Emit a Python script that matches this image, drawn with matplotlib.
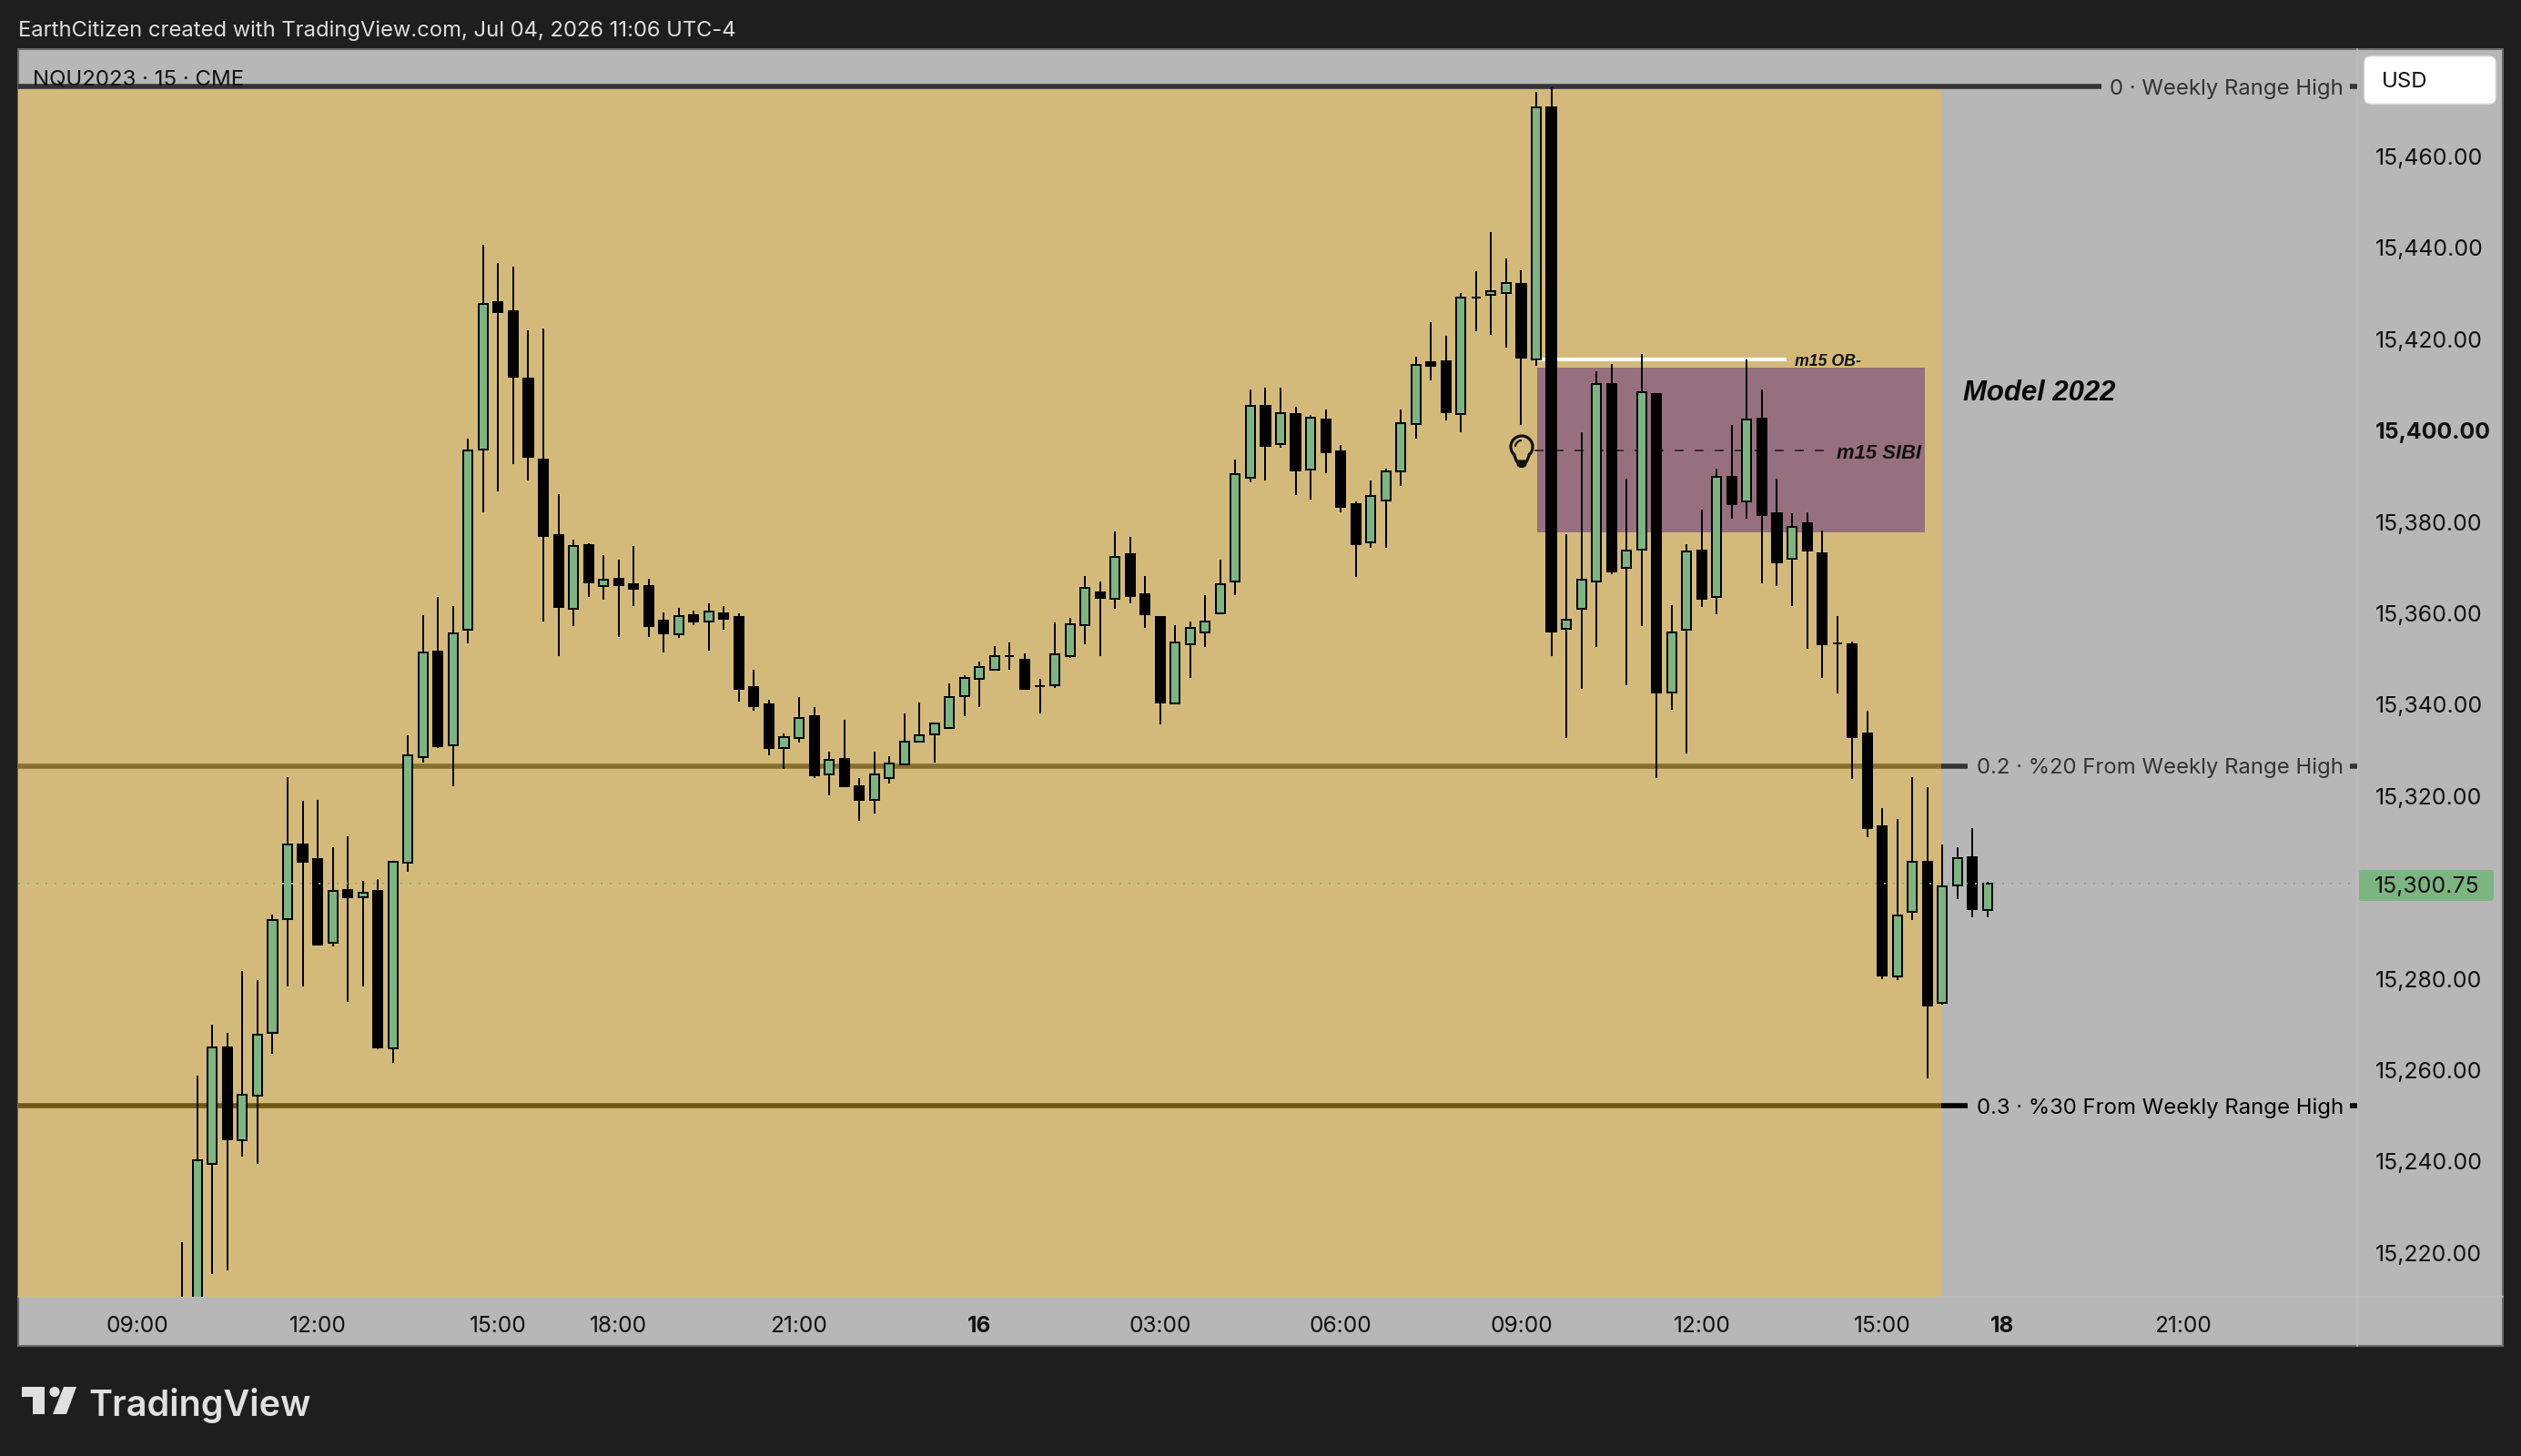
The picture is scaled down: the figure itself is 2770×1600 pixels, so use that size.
import numpy as np
import matplotlib
matplotlib.use("Agg")
import matplotlib.pyplot as plt
from matplotlib.patches import Rectangle, FancyBboxPatch, Polygon, Circle
from matplotlib.transforms import Affine2D

# candles, one per 15 minutes
opens = [15200.00, 15200.00, 15239.58, 15264.98, 15244.76, 15254.52, 15268.09, 15293.07, 15309.40, 15306.22,
         15287.89, 15299.44, 15297.85, 15299.24, 15264.88, 15305.42, 15328.61, 15351.63, 15331.19, 15356.51,
         15395.86, 15428.13, 15426.13, 15411.39, 15393.66, 15377.13, 15361.06, 15374.94, 15365.98, 15367.57,
         15366.37, 15365.98, 15358.41, 15355.42, 15359.60, 15358.21, 15360.00, 15359.20, 15343.86, 15340.08,
         15330.52, 15332.71, 15337.49, 15324.74, 15328.13, 15322.15, 15319.16, 15323.94, 15326.93, 15331.91,
         15333.51, 15334.90, 15341.87, 15345.66, 15347.65, 15350.64, 15349.84, 15344.06, 15344.32, 15350.70,
         15357.47, 15364.58, 15363.25, 15372.95, 15364.18, 15359.20, 15340.34, 15353.23, 15355.82, 15360.00,
         15366.97, 15389.68, 15405.42, 15397.05, 15403.62, 15391.47, 15402.43, 15395.46, 15383.90, 15375.54,
         15384.70, 15391.07, 15401.43, 15414.98, 15415.18, 15403.72, 15429.12, 15429.72, 15430.12, 15432.11,
         15415.58, 15470.75, 15356.61, 15361.00, 15366.97, 15410.20, 15369.96, 15374.04, 15408.01, 15342.75,
         15356.41, 15373.74, 15363.49, 15389.88, 15384.42, 15402.63, 15381.81, 15371.85, 15379.72, 15373.15,
         15353.33, 15353.23, 15333.70, 15313.39, 15280.52, 15294.66, 15305.62, 15274.74, 15300.44, 15306.61,
         15294.96]
highs = [15222.35, 15258.81, 15269.96, 15268.17, 15281.71, 15279.72, 15294.06, 15324.14, 15318.96, 15319.16,
         15308.80, 15311.20, 15301.43, 15301.83, 15305.82, 15333.31, 15359.60, 15363.58, 15361.59, 15398.25,
         15440.68, 15436.69, 15435.89, 15421.95, 15422.35, 15386.09, 15376.13, 15375.24, 15372.75, 15371.75,
         15374.74, 15367.57, 15360.20, 15361.19, 15360.60, 15362.19, 15361.59, 15360.00, 15347.65, 15341.08,
         15333.70, 15341.67, 15339.48, 15329.72, 15336.69, 15323.94, 15329.72, 15328.72, 15338.09, 15340.48,
         15335.90, 15344.66, 15346.45, 15349.44, 15352.83, 15353.62, 15351.23, 15345.66, 15358.01, 15359.00,
         15368.17, 15366.97, 15377.93, 15376.73, 15368.17, 15359.40, 15357.41, 15358.21, 15363.98, 15371.75,
         15393.66, 15409.00, 15409.40, 15409.40, 15405.22, 15403.42, 15404.62, 15396.85, 15384.50, 15389.08,
         15391.67, 15404.62, 15416.17, 15423.74, 15420.76, 15430.12, 15434.90, 15443.46, 15437.69, 15435.10,
         15474.14, 15475.14, 15377.33, 15399.64, 15412.99, 15414.58, 15389.48, 15416.77, 15408.01, 15361.79,
         15375.14, 15382.71, 15391.67, 15401.23, 15415.58, 15409.00, 15389.48, 15381.81, 15382.11, 15378.13,
         15359.40, 15353.82, 15338.68, 15317.37, 15314.98, 15324.14, 15321.95, 15309.40, 15308.80, 15312.99,
         15301.24]
lows = [15195.00, 15190.00, 15215.38, 15216.26, 15241.08, 15239.58, 15263.59, 15278.33, 15278.33, 15287.49,
        15287.09, 15274.94, 15278.33, 15264.58, 15261.59, 15303.43, 15327.23, 15330.60, 15322.15, 15353.43,
        15382.11, 15386.69, 15392.67, 15389.08, 15358.21, 15350.64, 15357.21, 15363.58, 15362.99, 15354.82,
        15361.59, 15354.82, 15351.43, 15354.62, 15357.41, 15351.83, 15356.41, 15340.68, 15338.68, 15328.92,
        15325.94, 15331.71, 15323.94, 15320.16, 15322.15, 15314.58, 15316.18, 15322.75, 15326.93, 15331.91,
        15327.33, 15334.90, 15337.49, 15339.48, 15347.65, 15347.65, 15343.47, 15338.09, 15343.66, 15350.24,
        15353.23, 15350.64, 15361.00, 15362.19, 15356.81, 15335.70, 15340.34, 15345.86, 15352.63, 15360.00,
        15363.98, 15388.68, 15389.08, 15396.25, 15385.90, 15384.90, 15390.68, 15382.11, 15367.97, 15374.34,
        15374.34, 15387.89, 15398.25, 15410.99, 15402.23, 15399.64, 15421.75, 15420.95, 15418.17, 15401.23,
        15414.18, 15350.64, 15332.71, 15343.47, 15352.63, 15368.47, 15344.26, 15357.21, 15324.04, 15338.88,
        15329.32, 15361.39, 15359.80, 15380.72, 15380.72, 15366.57, 15365.98, 15361.59, 15352.23, 15345.86,
        15342.47, 15323.74, 15311.00, 15279.92, 15279.72, 15292.87, 15258.29, 15274.34, 15297.45, 15293.47,
        15293.47]
closes = [15205.00, 15240.28, 15265.04, 15244.86, 15254.68, 15267.77, 15292.95, 15309.40, 15305.62, 15287.49,
          15299.34, 15297.85, 15298.84, 15264.98, 15305.62, 15328.92, 15351.43, 15330.92, 15355.62, 15395.66,
          15427.73, 15425.93, 15411.79, 15394.26, 15376.93, 15361.39, 15374.74, 15366.77, 15367.37, 15366.17,
          15365.38, 15357.21, 15355.62, 15359.40, 15358.21, 15360.40, 15358.80, 15343.47, 15339.68, 15330.52,
          15332.91, 15337.09, 15324.54, 15327.93, 15322.15, 15319.16, 15324.74, 15327.13, 15331.91, 15333.31,
          15335.90, 15341.67, 15345.86, 15348.25, 15350.64, 15350.64, 15343.47, 15344.06, 15351.10, 15357.61,
          15365.58, 15363.39, 15372.35, 15363.78, 15359.80, 15340.48, 15353.62, 15356.81, 15358.21, 15366.37,
          15390.48, 15405.42, 15396.65, 15403.82, 15391.27, 15402.83, 15395.26, 15383.31, 15375.14, 15385.70,
          15391.07, 15401.63, 15414.38, 15414.18, 15404.02, 15429.12, 15429.12, 15430.52, 15432.39, 15415.97,
          15470.75, 15356.02, 15358.51, 15367.37, 15410.20, 15369.16, 15373.84, 15408.31, 15342.67, 15355.82,
          15373.64, 15363.19, 15389.88, 15383.90, 15402.51, 15381.51, 15371.15, 15379.02, 15373.74, 15353.23,
          15353.33, 15332.91, 15312.99, 15280.72, 15293.86, 15305.62, 15274.14, 15300.24, 15306.49, 15295.26,
          15300.75]

price_ticks = [15220, 15240, 15260, 15280, 15320, 15340, 15360, 15380, 15400, 15420, 15440, 15460]
bold_price = 15400
time_pos = [-3, 9, 21, 29, 41, 53, 65, 77, 89, 101, 113, 121, 133]
time_labels = ["09:00", "12:00", "15:00", "18:00", "21:00", "16", "03:00", "06:00", "09:00", "12:00", "15:00", "18", "21:00"]
bold_times = ["16", "18"]

last_price = 15300.75
fib_levels = [15475.25, 15326.60, 15252.15]
fib_labels = ["0 · Weekly Range High", "0.2 · %20 From Weekly Range High", "0.3 · %30 From Weekly Range High"]
zone_top = 15474.75
zone_end = 116.9
sibi_low, sibi_high = 15377.7, 15413.8
sibi_start, sibi_end = 90.05, 115.85
ob_price = 15415.6

BG = "#1E1E1E"
GRAY = "#B7B7B7"
YELLOW = "#D3BA7A"
GREEN = "#7DB582"
PURPLE = "#97707F"
FONT = "Inter"

fig = plt.figure(figsize=(27.7, 16), dpi=100, facecolor=BG)
px = Affine2D().scale(1, -1).translate(0, 1600)  # reference pixels, y down

fig.add_artist(Rectangle((20, 54), 2730, 1425, transform=px, facecolor=GRAY, edgecolor="#6A6A6A", lw=1.5, zorder=-2))
fig.add_artist(plt.Line2D([2590, 2590], [54, 1479], transform=px, color="#BEBEBE", lw=1.2, zorder=-1))
fig.add_artist(plt.Line2D([20, 2750], [1425, 1425], transform=px, color="#BEBEBE", lw=1.2, zorder=-1))

ax = fig.add_axes([20 / 2770, (1600 - 1425) / 1600, 2570 / 2770, 1371 / 1600])
ax.patch.set_alpha(0)
ax.set_xlim(-10.907, 144.567)
ax.set_ylim(15210.4, 15483.5)
for s in ax.spines.values():
    s.set_visible(False)

# backgrounds
ax.add_patch(Rectangle((-10.907, 15200), zone_end + 10.907, zone_top - 15200, facecolor=YELLOW, edgecolor="none", zorder=1))
ax.add_patch(Rectangle((sibi_start, sibi_low), sibi_end - sibi_start, sibi_high - sibi_low, facecolor=PURPLE, edgecolor="none", zorder=2))
ax.plot([89.9, 109.3], [(sibi_low + sibi_high) / 2] * 2, color="#33302F", lw=1.44, ls=(0, (5, 6)), zorder=3)
ax.plot([89.9, 106.65], [ob_price, ob_price], color="white", lw=2.9, solid_capstyle="butt", zorder=3)
ax.plot([111.0, 111.15], [ob_price, ob_price], color="white", lw=2.2, solid_capstyle="butt", zorder=3)

# weekly range levels
ax.plot([-10.907, 127.57], [fib_levels[0]] * 2, color="#333333", lw=4, solid_capstyle="butt", zorder=3)
ax.plot([-10.907, zone_end], [fib_levels[1]] * 2, color="#87702F", lw=4, solid_capstyle="butt", zorder=3)
ax.plot([zone_end, 118.67], [fib_levels[1]] * 2, color="#333333", lw=4, solid_capstyle="butt", zorder=3)
ax.plot([-10.907, zone_end], [fib_levels[2]] * 2, color="#6E5613", lw=4, solid_capstyle="butt", zorder=3)
ax.plot([zone_end, 118.67], [fib_levels[2]] * 2, color="#000000", lw=4, solid_capstyle="butt", zorder=3)
for lev, lab, col in zip(fib_levels, fib_labels, ["#333333", "#333333", "#000000"]):
    ax.text(143.66, lev, lab, ha="right", va="center_baseline", color=col, fontsize=17.2, family=FONT, zorder=7)
    ax.plot([144.08, 144.567], [lev, lev], color=col, lw=4, solid_capstyle="butt", zorder=3)

# candles
xs = np.arange(len(opens))
o = np.array(opens)
c = np.array(closes)
colors = [GREEN if cl > op else "black" for op, cl in zip(o, c)]
ax.vlines(xs, lows, highs, color="black", lw=1.44, zorder=5)
ax.bar(xs, np.abs(c - o), bottom=np.minimum(o, c), width=0.61, color=colors, edgecolor="black", linewidth=1.44, zorder=5.5)

# last price line
ax.plot([-10.907, 144.567], [last_price, last_price], color=GREEN, lw=1.44, ls=(0, (1, 4)), zorder=6)

# axes
ax.yaxis.tick_right()
ax.set_yticks(price_ticks)
ax.set_yticklabels([f"{p:,.2f}" for p in price_ticks])
ax.tick_params(axis="y", length=0, pad=14, labelsize=17.9, labelcolor="#111111")
for t, p in zip(ax.get_yticklabels(), price_ticks):
    t.set_family(FONT)
    if p == bold_price:
        t.set_fontweight("bold")
ax.set_xticks(time_pos)
ax.set_xticklabels(time_labels)
ax.tick_params(axis="x", length=0, pad=15, labelsize=17.6, labelcolor="#111111")
for t in ax.get_xticklabels():
    t.set_family(FONT)
    if t.get_text() in bold_times:
        t.set_fontweight("bold")

# last price tag
fig.add_artist(FancyBboxPatch((2592, 956), 148, 34, boxstyle="round,pad=0,rounding_size=3", transform=px, facecolor=GREEN, edgecolor="none"))
fig.text(2609 / 2770, 1 - 972 / 1600, f"{last_price:,.2f}", fontsize=17.9, family=FONT, color="#111111", va="center_baseline")

# currency box
fig.add_artist(FancyBboxPatch((2598, 62), 144, 52, boxstyle="round,pad=0,rounding_size=7", transform=px, facecolor="white", edgecolor="#E8E8E8", lw=1))
fig.text(2617 / 2770, 1 - 87 / 1600, "USD", fontsize=17.3, family=FONT, color="#111111", va="center_baseline")

# annotations
fig.text(2157 / 2770, 1 - 429 / 1600, "Model 2022", fontsize=22.4, family="Liberation Sans", style="italic", weight="bold", color="#0A0A0A", va="center_baseline")
fig.text(2018 / 2770, 1 - 496 / 1600, "m15 SIBI", fontsize=15.8, family="Liberation Sans", style="italic", weight="bold", color="#111111", va="center_baseline")
fig.text(1972 / 2770, 1 - 395 / 1600, "m15 OB-", fontsize=12.8, family="Liberation Sans", style="italic", weight="bold", color="#111111", va="center_baseline")

# header / footer text
fig.text(20 / 2770, 1 - 31 / 1600, "EarthCitizen created with TradingView.com, Jul 04, 2026 11:06 UTC-4", fontsize=17.1, family=FONT, color="#DEDEDE", va="center_baseline")
fig.text(36 / 2770, 1 - 85 / 1600, "NQU2023 · 15 · CME", fontsize=17.3, family=FONT, color="#111111", va="center_baseline", zorder=10)
fig.text(97 / 2770, 1 - 1540 / 1600, "TradingView", fontsize=28.5, family=FONT, weight="semibold", color="#E0E0E0", va="center_baseline")

# logo
fig.add_artist(Polygon([(24, 1524), (48.5, 1524), (48.5, 1554), (36, 1554), (36, 1535), (24, 1535)], transform=px, facecolor="#E0E0E0", edgecolor="none"))
fig.add_artist(Circle((60, 1529.5), 5.6, transform=px, facecolor="#E0E0E0", edgecolor="none"))
fig.add_artist(Polygon([(70, 1524), (84, 1524), (73, 1554), (58, 1554)], transform=px, facecolor="#E0E0E0", edgecolor="none"))

# light bulb
th = np.radians(np.linspace(135, 405, 80))
bx = 1672 + 12 * np.cos(th)
by = 491 + 12 * np.sin(th)
fig.add_artist(plt.Line2D(bx, by, transform=px, color="#111111", lw=2.3))
fig.add_artist(plt.Line2D([1663.5, 1666.5, 1677.5, 1680.5], [499.5, 507, 507, 499.5], transform=px, color="#111111", lw=2.3))
fig.add_artist(Polygon([(1666, 508), (1678, 508), (1677, 512), (1674, 514), (1670, 514), (1667, 512)], transform=px, facecolor="#111111", edgecolor="none"))
th2 = np.radians(np.linspace(190, 260, 20))
fig.add_artist(plt.Line2D(1672 + 7 * np.cos(th2), 491 + 7 * np.sin(th2), transform=px, color="#111111", lw=1.6))

fig.savefig("out.png", dpi=100, facecolor=BG)
